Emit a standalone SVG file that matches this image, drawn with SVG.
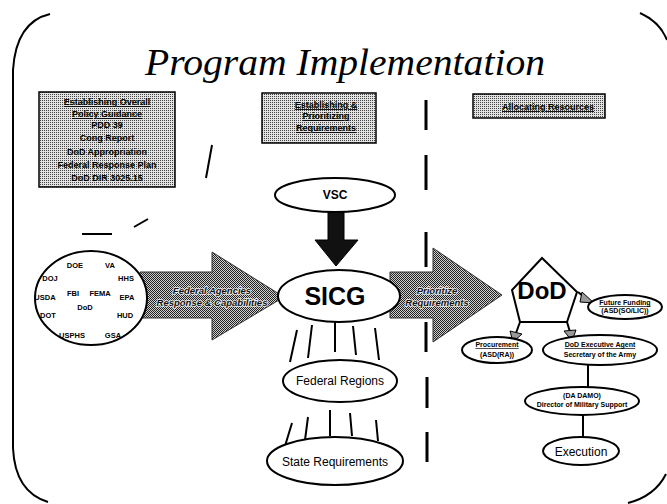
<svg xmlns="http://www.w3.org/2000/svg" width="667" height="504" viewBox="0 0 667 504">
<defs>
<pattern id="ditherL" width="2" height="2" patternUnits="userSpaceOnUse"><rect width="2" height="2" fill="#e2e2e2"/><rect width="1" height="1" fill="#444"/></pattern>
<pattern id="ditherD" width="2" height="2" patternUnits="userSpaceOnUse"><rect width="2" height="2" fill="#cfcfcf"/><rect width="1" height="1" fill="#222"/><rect x="1" y="1" width="1" height="1" fill="#222"/></pattern>
<style>
.frame{fill:none;stroke:#000;stroke-width:2}
.box{fill:url(#ditherL);stroke:#000;stroke-width:1.5}
.bt{font-family:"Liberation Sans",Arial,sans-serif;font-size:9px;font-weight:bold;text-anchor:middle;fill:#000}
.ul{text-decoration:underline}
.ag{font-family:"Liberation Sans",Arial,sans-serif;font-size:7.5px;font-weight:bold;text-anchor:middle;fill:#000}
.node{fill:#fff;stroke:#000;stroke-width:2}
.nt{font-family:"Liberation Sans",Arial,sans-serif;font-size:12px;text-anchor:middle;fill:#000}
.st{font-family:"Liberation Sans",Arial,sans-serif;font-size:7px;font-weight:bold;text-anchor:middle;fill:#000}
.big{fill:url(#ditherD);stroke:#333;stroke-width:1}
.at{font-family:"Liberation Sans",Arial,sans-serif;font-size:9.5px;font-weight:bold;font-style:italic;text-anchor:middle;fill:#111;stroke:#eee;stroke-width:1.6;paint-order:stroke}
.ln{stroke:#000;stroke-width:2;fill:none}
.dash{stroke:#000;stroke-width:3;fill:none}
.sm{fill:#999;stroke:#000;stroke-width:1}
</style>
</defs>
<rect width="667" height="504" fill="#fff"/>

<!-- frame -->
<g id="frame">
<path class="frame" d="M50 14 Q16 22 13 70 L13 448 Q15 492 48 502"/>
<path class="frame" d="M640 13 Q660 22 667 40"/>
<path class="frame" d="M628 503 Q655 496 666 474"/>
</g>

<text x="145" y="75" font-family="Liberation Serif,'Times New Roman',serif" font-style="italic" font-size="38" textLength="400" lengthAdjust="spacingAndGlyphs">Program Implementation</text>

<!-- Box 1 -->
<g id="box-policy">
<rect class="box" x="39" y="92" width="136" height="95"/>
<text class="bt ul" x="107" y="105">Establishing Overall</text>
<text class="bt ul" x="107" y="117">Policy Guidance</text>
<text class="bt" x="107" y="128">PDD 39</text>
<text class="bt" x="107" y="141">Cong Report</text>
<text class="bt" x="107" y="155">DoD Appropriation</text>
<text class="bt" x="107" y="168">Federal Response Plan</text>
<text class="bt" x="107" y="181">DoD DIR 3025.15</text>
</g>

<!-- Box 2 -->
<g id="box-prioritizing">
<rect class="box" x="262" y="93" width="114" height="50"/>
<text class="bt ul" x="326" y="108">Establishing &amp;</text>
<text class="bt ul" x="326" y="119">Prioritizing</text>
<text class="bt ul" x="326" y="131">Requirements</text>
</g>

<!-- Box 3 -->
<g id="box-allocating">
<rect class="box" x="473" y="94" width="132" height="24"/>
<text class="bt ul" x="548" y="110">Allocating Resources</text>
</g>

<!-- connectors -->
<g id="connectors">
<path class="ln" d="M212 145 L206 178"/>
<path class="ln" d="M148 219 L134 227"/>
<path class="ln" d="M82 234 L112 234"/>
<path class="dash" d="M426 100 V130 M426 155 V190 M426 232 V267 M426 322 V352 M427 377 V408 M427 432 V462"/>
<polygon class="big" points="140,272 212,272 212,252 284,297 212,340 212,318 140,318"/>
<text class="at" x="212" y="294">Federal Agencies</text>
<text class="at" x="212" y="306">Response &amp; Capabilities</text>
<polygon class="big" points="390,272 433,272 433,248 502,295 433,342 433,318 390,318"/>
<text class="at" x="437" y="294">Prioritize</text>
<text class="at" x="437" y="306">Requirements</text>
<polygon fill="#111" stroke="#000" points="328,212 344,212 344,240 358,240 336,266 315,240 328,240"/>
<path class="ln" d="M297 330 L290 362 M312 325 L308 358 M335 322 L335 352 M353 326 L356 355 M375 328 L379 360"/>
<path class="ln" d="M292 423 L285 446 M308 417 L305 440 M330 410 L330 436 M350 413 L352 436 M376 420 L378 441"/>
<path class="ln" d="M520 322 L516 333"/>
<polygon class="sm" points="510,331 522,334 513,342"/>
<path class="ln" d="M567 322 L570 332"/>
<polygon class="sm" points="564,331 576,330 572,341"/>
<path class="ln" d="M578 292 L590 302"/>
<polygon class="sm" points="582,292 594,303 580,302"/>
<path class="ln" d="M588 365 V388"/>
<path class="ln" d="M583 415 V438"/>
</g>

<g id="node-agencies">
<ellipse class="node" cx="91" cy="298" rx="56" ry="47"/>
<text class="ag" x="75" y="268">DOE</text>
<text class="ag" x="110" y="268">VA</text>
<text class="ag" x="50" y="281">DOJ</text>
<text class="ag" x="126" y="281">HHS</text>
<text class="ag" x="73" y="296">FBI</text>
<text class="ag" x="100" y="296">FEMA</text>
<text class="ag" x="127" y="300">EPA</text>
<text class="ag" x="45" y="300">USDA</text>
<text class="ag" x="85" y="310">DoD</text>
<text class="ag" x="48" y="318">DOT</text>
<text class="ag" x="125" y="318">HUD</text>
<text class="ag" x="72" y="338">USPHS</text>
<text class="ag" x="113" y="338">GSA</text>
</g>

<g id="node-vsc">
<ellipse class="node" cx="335" cy="195" rx="60" ry="17"/>
<text class="nt" x="335" y="199" font-size="10" font-weight="bold">VSC</text>
</g>

<g id="node-sicg">
<ellipse class="node" cx="339" cy="296" rx="61" ry="26"/>
<text class="nt" x="335" y="305" style="font-size:25px;font-weight:bold">SICG</text>
</g>

<g id="node-federal-regions">
<ellipse class="node" cx="340" cy="381" rx="57" ry="21"/>
<text class="nt" x="340" y="385">Federal Regions</text>
</g>

<g id="node-state-requirements">
<ellipse class="node" cx="335" cy="461" rx="68" ry="24"/>
<text class="nt" x="335" y="466">State Requirements</text>
</g>

<g id="node-dod">
<polygon class="node" points="542,258 577,292 567,322 520,322 512,290"/>
<text class="nt" x="542" y="299" style="font-size:24px;font-weight:bold">DoD</text>
</g>

<g id="node-future-funding">
<ellipse class="node" cx="625" cy="307" rx="37" ry="12"/>
<text class="st ul" x="625" y="305">Future Funding</text>
<text class="st" x="625" y="313">(ASD(SO/LIC))</text>
</g>

<g id="node-procurement">
<ellipse class="node" cx="497" cy="350" rx="35" ry="13"/>
<text class="st ul" x="497" y="347">Procurement</text>
<text class="st" x="497" y="357">(ASD(RA))</text>
</g>

<g id="node-exec-agent">
<ellipse class="node" cx="600" cy="350" rx="57" ry="15"/>
<text class="st ul" x="600" y="347">DoD Executive Agent</text>
<text class="st" x="600" y="357">Secretary of the Army</text>
</g>

<g id="node-doms">
<ellipse class="node" cx="582" cy="401" rx="57" ry="14"/>
<text class="st" x="582" y="398">(DA DAMO)</text>
<text class="st" x="582" y="407">Director of Military Support</text>
</g>

<g id="node-execution">
<ellipse class="node" cx="581" cy="451" rx="38" ry="14"/>
<text class="nt" x="581" y="456">Execution</text>
</g>
</svg>
